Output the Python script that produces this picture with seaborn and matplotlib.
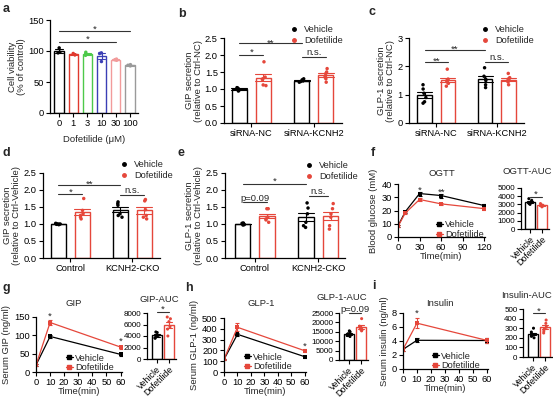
import numpy as np
import pandas as pd
import matplotlib
matplotlib.use('Agg')
import matplotlib.pyplot as plt
import seaborn as sns
from matplotlib.lines import Line2D

# ---------------- data ----------------
treats = ['Vehicle', 'Dofetilide']
red = '#e5473b'
treat_colors = ['black', red]

# a: cell viability
doses = ['0', '1', '3', '10', '30', '100']
dose_colors = ['black', '#e0392e', '#4dc94a', '#3b3fb5', '#f29b9b', '#9a9a9a']
viab_pts = [[105, 98, 97], [96, 94, 94], [98, 95, 93], [97, 96, 83], [87, 86, 85], [78, 77, 76]]

# b / c: siRNA
cats_si = ['siRNA-NC', 'siRNA-KCNH2']
gip_nc_veh = [1.03, 1.01, 1.0, 0.98, 0.94, 1.04]
gip_nc_dof = [1.8, 1.35, 1.3, 1.28, 1.12, 1.1]
gip_kd_veh = [1.3, 1.27, 1.25, 1.24, 1.22, 1.2]
gip_kd_dof = [1.6, 1.5, 1.45, 1.35, 1.3, 1.2]
glp_nc_veh = [1.35, 1.2, 1.05, 0.9, 0.75, 0.7]
glp_nc_dof = [1.9, 1.55, 1.5, 1.45, 1.4, 1.3]
glp_kd_veh = [1.95, 1.65, 1.55, 1.5, 1.35, 1.25]
glp_kd_dof = [1.75, 1.6, 1.55, 1.5, 1.45, 1.35]

# d / e: knockout
cats_ko = ['Control', 'KCNH2-CKO']
gip_ct_veh = [1.02, 1.01, 1.0, 0.99, 0.98, 1.0]
gip_ct_dof = [1.75, 1.4, 1.3, 1.25, 1.2, 1.15]
gip_ko_veh = [1.65, 1.6, 1.55, 1.3, 1.25, 1.2]
gip_ko_dof = [1.72, 1.68, 1.42, 1.2, 1.15, 1.25]
glp_ct_veh = [1.03, 1.02, 1.0, 0.99, 0.97, 0.98]
glp_ct_dof = [1.45, 1.45, 1.2, 1.15, 1.12, 1.05]
glp_ko_veh = [1.62, 1.47, 1.3, 1.05, 0.95, 0.9]
glp_ko_dof = [1.6, 1.45, 1.3, 1.2, 0.95, 0.85]

# f: OGTT
ogtt_t = [0, 10, 30, 60, 120]
ogtt_veh = [8.3, 19, 32.8, 31.3, 23.7]
ogtt_veh_se = [0.8, 1.0, 1.5, 1.5, 1.2]
ogtt_dof = [8.0, 18, 28.3, 25, 21.4]
ogtt_dof_se = [0.8, 1.0, 1.2, 1.0, 1.0]
ogtt_auc_veh = [3700, 3500, 3300, 3100, 3000]
ogtt_auc_dof = [3100, 3000, 2900, 2800, 2700]

# g/h/i: hormones
horm_t = [0, 10, 60]
gip_veh = [18.8, 97, 48]
gip_veh_se = [2, 5, 3]
gip_dof = [18.8, 135, 68]
gip_dof_se = [2, 7, 4]
gip_auc_veh = [4700, 4600, 4100, 3900, 3600, 3700]
gip_auc_dof = [7300, 7000, 6500, 5600, 5200, 4000]
glp_veh = [117, 349, 142]
glp_veh_se = [8, 15, 8]
glp_dof = [117, 414, 197]
glp_dof_se = [8, 37, 12]
glp_auc_veh = [15500, 15000, 14000, 13000, 12500, 13000]
glp_auc_dof = [22000, 18000, 17000, 16000, 15500, 16500]
ins_veh = [2.8, 4.1, 4.07]
ins_veh_se = [0.2, 0.3, 0.4]
ins_dof = [2.8, 6.55, 4.1]
ins_dof_se = [0.2, 0.7, 0.4]
ins_auc_veh = [300, 260, 240, 225, 200, 215]
ins_auc_dof = [385, 350, 310, 290, 250, 270]

# ---------------- style ----------------
sns.set_theme(style='ticks')
plt.rcParams['font.family'] = ['Liberation Sans', 'DejaVu Sans']
plt.rcParams['font.size'] = 6.7
plt.rcParams['axes.labelsize'] = 6.8
plt.rcParams['axes.edgecolor'] = 'black'
plt.rcParams['xtick.color'] = 'black'
plt.rcParams['ytick.color'] = 'black'
np.random.seed(3)

W, H = 553, 399
fig = plt.figure(figsize=(W / 100, H / 100), dpi=100)


def make_ax(x0, y0, x1, y1):
    ax = fig.add_axes([x0 / W, 1 - y1 / H, (x1 - x0) / W, (y1 - y0) / H])
    sns.despine(ax=ax)
    ax.tick_params(length=3, width=0.8, pad=1.5, labelsize=6.7)
    for s in ('left', 'bottom'):
        ax.spines[s].set_linewidth(0.9)
    return ax


def ylab(ax, text, pad=2):
    ax.set_ylabel(text, labelpad=pad, linespacing=1.0)


def ftext(x, y, s, **kw):
    kw.setdefault('fontsize', 6.8)
    fig.text(x / W, 1 - y / H, s, ha='center', va='center', **kw)


def sig(ax, x0, x1, y, label, off=-1.5):
    ax.plot([x0, x1], [y, y], color='#333333', lw=0.8, clip_on=False)
    ax.annotate(label, ((x0 + x1) / 2, y), xytext=(0, off), textcoords='offset points',
                ha='center', va='bottom', fontsize=6.8, annotation_clip=False)


def dot_legend(ax, x, y):
    handles = [Line2D([], [], marker='o', ls='', color=c, markersize=2.5, label=t)
               for t, c in zip(treats, treat_colors)]
    ax.legend(handles=handles, loc='center left', bbox_to_anchor=(x / W, 1 - y / H),
              bbox_transform=fig.transFigure, frameon=False, fontsize=6.7, borderpad=0,
              borderaxespad=0, handlelength=1, handletextpad=0.6, labelspacing=0.25)


def line_legend(ax, x, y):
    handles = [Line2D([], [], marker='s', color=c, markersize=2.8, lw=0.9, label=t)
               for t, c in zip(treats, treat_colors)]
    ax.legend(handles=handles, loc='center left', bbox_to_anchor=(x / W, 1 - y / H),
              bbox_transform=fig.transFigure, frameon=False, fontsize=6.7, borderpad=0,
              borderaxespad=0, handlelength=0.75, handletextpad=0.25, labelspacing=0.1)


def group_panel(ax, cats, vv, vd, kv, kd):
    rows = []
    for cat, veh, dof in ((cats[0], vv, vd), (cats[1], kv, kd)):
        rows += [(cat, 'Vehicle', v) for v in veh]
        rows += [(cat, 'Dofetilide', v) for v in dof]
    df = pd.DataFrame(rows, columns=['group', 'treat', 'value'])
    sns.barplot(data=df, x='group', y='value', hue='treat', order=cats, hue_order=treats,
                palette=treat_colors, fill=False, width=0.77, gap=0.375, errorbar='se',
                capsize=0.5, linewidth=1, err_kws={'linewidth': 0.8}, legend=False, ax=ax)
    sns.stripplot(data=df, x='group', y='value', hue='treat', order=cats, hue_order=treats,
                  palette=treat_colors, dodge=True, size=2.5, jitter=0.08, legend=False, ax=ax)
    ax.set_xlabel('')


def line_panel(ax, t, veh, veh_se, dof, dof_se):
    for mean, se, col in ((veh, veh_se, 'black'), (dof, dof_se, red)):
        ax.errorbar(t, mean, yerr=se, fmt='none', ecolor=col, elinewidth=0.8, capsize=1.5,
                    capthick=0.8)
        sns.lineplot(x=t, y=mean, color=col, marker='s', markersize=2.8, markeredgewidth=0,
                     linewidth=0.9, ax=ax)


def auc_panel(ax, veh_pts, dof_pts):
    df = pd.DataFrame({'treat': ['Vehicle'] * len(veh_pts) + ['Dofetilide'] * len(dof_pts),
                       'value': veh_pts + dof_pts})
    sns.barplot(data=df, x='treat', y='value', hue='treat', order=treats, hue_order=treats,
                palette=treat_colors, fill=False, width=0.85, errorbar='se', capsize=0.5,
                linewidth=1, err_kws={'linewidth': 0.8}, legend=False, ax=ax)
    sns.stripplot(data=df, x='treat', y='value', hue='treat', order=treats, hue_order=treats,
                  palette=treat_colors, size=2.2, jitter=0.15, legend=False, ax=ax)
    ax.set_xlim(-0.8, 1.6)
    ax.set_xticks([0, 1], treats, rotation=45, ha='right', rotation_mode='anchor')
    ax.tick_params(axis='y', labelsize=5.8, pad=1)
    ax.tick_params(axis='x', labelsize=6.4, pad=1)
    ax.set_xlabel('')
    ax.set_ylabel('')


# ---------------- a ----------------
ax = make_ax(50, 20, 138, 113)
df_a = pd.DataFrame({'dose': np.repeat(doses, 3), 'value': np.concatenate(viab_pts)})
sns.barplot(data=df_a, x='dose', y='value', hue='dose', order=doses, palette=dose_colors,
            fill=False, width=0.65, errorbar='se', capsize=0.5, linewidth=1,
            err_kws={'linewidth': 0.8}, legend=False, ax=ax)
sns.stripplot(data=df_a, x='dose', y='value', hue='dose', order=doses, palette=dose_colors,
              size=2.5, jitter=0.15, legend=False, ax=ax)
ax.set_xlim(-0.63, 5.56)
ax.set_ylim(0, 150)
ax.set_yticks([0, 50, 100, 150])
ax.set_xlabel('Dofetilide (μM)', labelpad=5)
ylab(ax, 'Cell viability\n(% of control)', pad=1.5)
sig(ax, 0, 5, 132, '*')
sig(ax, 0, 4, 115, '*')

# ---------------- b ----------------
ax = make_ax(224, 38, 342, 123)
group_panel(ax, cats_si, gip_nc_veh, gip_nc_dof, gip_kd_veh, gip_kd_dof)
ax.set_xlim(-0.435, 1.45)
ax.set_ylim(0, 2.5)
ax.set_yticks(np.arange(0, 2.51, 0.5))
ax.yaxis.set_major_formatter('{x:.1f}')
ylab(ax, 'GIP secretion\n(relative to Ctrl-NC)', pad=1)
sig(ax, -0.19, 0.81, 2.35, '**', off=-3)
sig(ax, -0.19, 0.19, 2.0, '*')
sig(ax, 0.81, 1.19, 1.94, 'n.s.', off=0)
dot_legend(ax, 289, 35)

# ---------------- c ----------------
ax = make_ax(409, 38, 524, 123)
group_panel(ax, cats_si, glp_nc_veh, glp_nc_dof, glp_kd_veh, glp_kd_dof)
ax.set_xlim(-0.45, 1.45)
ax.set_ylim(0, 3)
ax.set_yticks([0, 1, 2, 3])
ylab(ax, 'GLP-1 secretion\n(relative to Ctrl-NC)', pad=1.5)
sig(ax, -0.19, 0.81, 2.58, '**', off=-3)
sig(ax, -0.19, 0.19, 2.16, '**', off=-3)
sig(ax, 0.81, 1.19, 2.16, 'n.s.', off=0)
dot_legend(ax, 480, 35)

# ---------------- d ----------------
ax = make_ax(43, 173, 160, 258)
group_panel(ax, cats_ko, gip_ct_veh, gip_ct_dof, gip_ko_veh, gip_ko_dof)
ax.set_xlim(-0.44, 1.45)
ax.set_ylim(0, 2.5)
ax.set_yticks(np.arange(0, 2.51, 0.5))
ax.yaxis.set_major_formatter('{x:.1f}')
ylab(ax, 'GIP secretion\n(relative to Ctrl-Vehicle)', pad=2)
sig(ax, -0.19, 0.81, 2.15, '**', off=-3)
sig(ax, -0.19, 0.19, 1.87, '*')
sig(ax, 0.81, 1.19, 1.85, 'n.s.', off=0)
dot_legend(ax, 119, 170)

# ---------------- e ----------------
ax = make_ax(225, 173, 345, 258)
group_panel(ax, cats_ko, glp_ct_veh, glp_ct_dof, glp_ko_veh, glp_ko_dof)
ax.set_xlim(-0.47, 1.42)
ax.set_ylim(0, 2.5)
ax.set_yticks(np.arange(0, 2.51, 0.5))
ax.yaxis.set_major_formatter('{x:.1f}')
ylab(ax, 'GLP-1 secretion\n(relative to Ctrl-Vehicle)', pad=2)
sig(ax, -0.19, 0.81, 2.18, '*')
sig(ax, -0.19, 0.19, 1.66, 'p=0.09', off=-1)
sig(ax, 0.85, 1.15, 1.82, 'n.s.', off=0)
dot_legend(ax, 304, 171)

# ---------------- f ----------------
ax = make_ax(398, 184, 485, 237)
line_panel(ax, ogtt_t, ogtt_veh, ogtt_veh_se, ogtt_dof, ogtt_dof_se)
ax.set_xlim(0, 121)
ax.set_ylim(0, 40)
ax.set_xticks([0, 30, 60, 90, 120])
ax.set_yticks([0, 10, 20, 30, 40])
ax.set_xlabel('Time(min)', labelpad=0)
ylab(ax, 'Blood glucose (mM)', pad=2)
ax.annotate('*', (30, 35), ha='center', va='center', fontsize=6.8)
ax.annotate('**', (60, 34), ha='center', va='center', fontsize=6.8)
line_legend(ax, 436, 229.5)
ftext(442, 174, 'OGTT')

ax = make_ax(521, 188, 549, 229)
auc_panel(ax, ogtt_auc_veh, ogtt_auc_dof)
ax.set_ylim(0, 5000)
ax.set_yticks(range(0, 5001, 1000))
sig(ax, 0, 1, 3900, '*')
ftext(527, 171, 'OGTT-AUC')

# ---------------- g ----------------
ax = make_ax(36, 317, 122, 372)
line_panel(ax, horm_t, gip_veh, gip_veh_se, gip_dof, gip_dof_se)
ax.set_xlim(0, 61)
ax.set_ylim(0, 150)
ax.set_xticks(range(0, 61, 10))
ax.set_yticks([0, 50, 100, 150])
ax.set_xlabel('Time(min)', labelpad=0)
ylab(ax, 'Serum GIP (ng/ml)', pad=2)
ax.annotate('*', (10, 152), ha='center', va='center', fontsize=6.8, annotation_clip=False)
ax.annotate('*', (60, 84), ha='center', va='center', fontsize=6.8, annotation_clip=False)
line_legend(ax, 66, 363)
ftext(74, 303, 'GIP')

ax = make_ax(147, 313, 176, 359)
auc_panel(ax, gip_auc_veh, gip_auc_dof)
ax.set_ylim(0, 8000)
ax.set_yticks(range(0, 8001, 2000))
sig(ax, 0, 1, 8200, '*')
ftext(159, 299, 'GIP-AUC')

# ---------------- h ----------------
ax = make_ax(224, 318, 306, 372)
line_panel(ax, horm_t, glp_veh, glp_veh_se, glp_dof, glp_dof_se)
ax.set_xlim(0, 61)
ax.set_ylim(0, 500)
ax.set_xticks(range(0, 61, 10))
ax.set_yticks(range(0, 501, 100))
ax.set_xlabel('Time(min)', labelpad=0)
ylab(ax, 'Serum GLP-1 (ng/ml)', pad=2)
ax.annotate('*', (60, 234), ha='center', va='center', fontsize=6.8, annotation_clip=False)
line_legend(ax, 244, 362)
ftext(261, 303, 'GLP-1')

ax = make_ax(339, 313, 368, 360)
auc_panel(ax, glp_auc_veh, glp_auc_dof)
ax.set_ylim(0, 25000)
ax.set_yticks(range(0, 25001, 5000))
sig(ax, 0, 1, 25000, 'p=0.09', off=-1)
ftext(342, 298, 'GLP-1-AUC')

# ---------------- i ----------------
ax = make_ax(403, 313, 488, 369)
line_panel(ax, horm_t, ins_veh, ins_veh_se, ins_dof, ins_dof_se)
ax.set_xlim(0, 61)
ax.set_ylim(0, 8)
ax.set_xticks(range(0, 61, 10))
ax.set_yticks(range(0, 9, 2))
ax.set_xlabel('Time(min)', labelpad=0)
ylab(ax, 'Serum insulin (ng/ml)', pad=2)
ax.annotate('*', (10, 8.0), ha='center', va='center', fontsize=6.8, annotation_clip=False)
line_legend(ax, 432, 361)
ftext(440, 303, 'Insulin')

ax = make_ax(523, 309, 552, 357)
auc_panel(ax, ins_auc_veh, ins_auc_dof)
ax.set_ylim(0, 500)
ax.set_yticks(range(0, 501, 100))
sig(ax, 0, 1, 455, '*')
ftext(527, 296, 'Insulin-AUC')

# panel letters
for letter, (x, y) in zip('abcdefghi', [(6, 9), (182, 14), (372, 12), (6, 153), (181, 153),
                                         (373, 153), (6, 288), (189, 288), (374, 286)]):
    ftext(x, y, letter, fontsize=9, fontweight='bold')

fig.savefig('out.png', dpi=100)
